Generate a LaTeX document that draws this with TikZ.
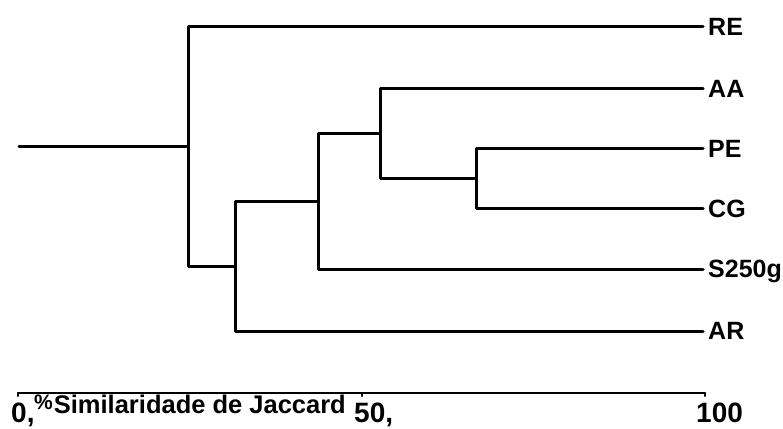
\documentclass[tikz,border=0pt]{standalone}
\usepackage{fontspec}
\setmainfont{Liberation Sans}
\begin{document}
\begin{tikzpicture}[x=1pt,y=-1pt,
  branch/.style={line width=3pt,line cap=round,line join=round},
  leaf/.style={anchor=base west,inner sep=0pt,font=\fontsize{25}{25}\selectfont\bfseries},
  axisnum/.style={anchor=base west,inner sep=0pt,font=\fontsize{28}{28}\selectfont\bfseries},
  axisline/.style={line width=2pt,line cap=round}]
\useasboundingbox (0,0) rectangle (783,428);
% leaf end points
\coordinate (eRE) at (703,27);
\coordinate (eAA) at (703,88);
\coordinate (ePE) at (703,148);
\coordinate (eCG) at (703,208);
\coordinate (eS) at (703,269);
\coordinate (eAR) at (703,331);
\node[leaf] (RE) at (708,36) {RE};
\node[leaf] (AA) at (708,97) {AA};
\node[leaf] (PE) at (708,157) {PE};
\node[leaf] (CG) at (708,217) {CG};
\node[leaf] (S250g) at (708,277) {S250g};
\node[leaf] (AR) at (708,339) {AR};
% internal nodes
\coordinate (n1) at (476,178);
\coordinate (n2) at (380,133);
\coordinate (n3) at (318,201);
\coordinate (n4) at (235,266);
\coordinate (n5) at (188,146);
\coordinate (root) at (19,146);
\draw[branch] (ePE) -| (n1) |- (eCG);
\draw[branch] (eAA) -| (n2) |- (n1);
\draw[branch] (n2) -| (n3) |- (eS);
\draw[branch] (n3) -| (n4) |- (eAR);
\draw[branch] (eRE) -| (n5) |- (n4);
\draw[branch] (root) -- (n5);
% axis
\coordinate (a0) at (18,393);
\coordinate (a50) at (362,393);
\coordinate (a100) at (705,393);
\draw[axisline] (a0) -- (a100);
\draw[axisline] (a0) -- ++(0,3);
\draw[axisline] (a50) -- ++(0,3);
\draw[axisline] (a100) -- ++(0,3);
\node[axisnum] (l0) at (11,422) {0,};
\node[axisnum] (l50) at (354,422) {50,};
\node[axisnum] (l100) at (696,422) {100};
\node[anchor=base west,inner sep=0pt,font=\fontsize{25.5}{25.5}\selectfont\bfseries] (title) at (34,413)
  {\raisebox{4pt}{\fontsize{21}{21}\selectfont\%}\kern1pt Similaridade de Jaccard};
\end{tikzpicture}
\end{document}
